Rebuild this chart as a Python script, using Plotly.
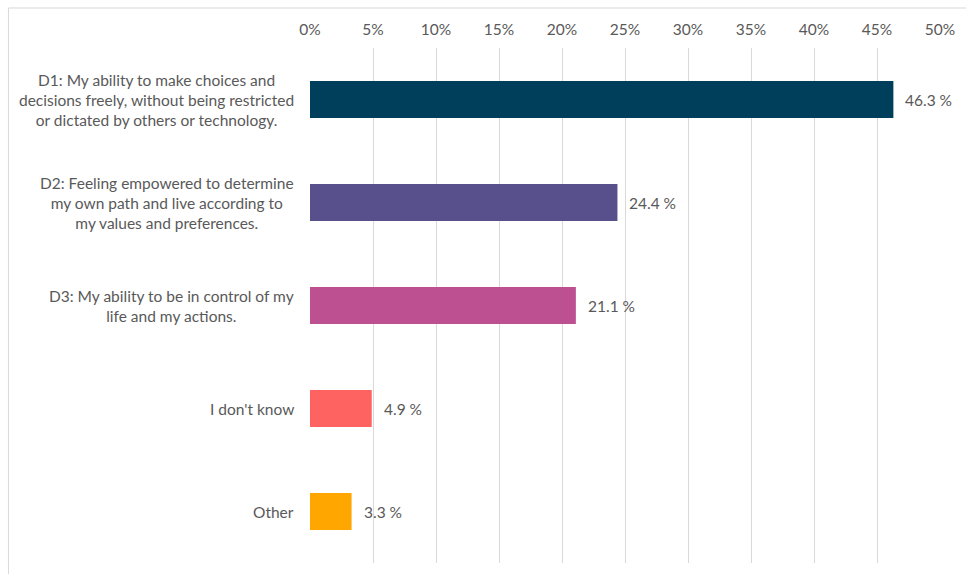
import plotly.graph_objects as go

# Survey responses: share of respondents choosing each definition
categories = ["D1", "D2", "D3", "IDK", "Other"]
labels = [
    "D1: My ability to make choices and<br>decisions freely, without being restricted<br>or dictated by others or technology.",
    "D2: Feeling empowered to determine<br>my own path and live according to<br>my values and preferences.",
    "D3: My ability to be in control of my<br>life and my actions.",
    "I don't know",
    "Other",
]
values = [46.3, 24.4, 21.1, 4.9, 3.3]
colors = ["#003f5c", "#58508d", "#bc5090", "#ff6361", "#ffa600"]
tick_vals = [0, 5, 10, 15, 20, 25, 30, 35, 40, 45, 50]
tick_text = [f"{v}%" for v in tick_vals]

FONT = "Lato"
GREY = "#595959"
SIZE = 15.5

fig = go.Figure(
    go.Bar(
        x=values,
        y=categories,
        orientation="h",
        marker=dict(color=colors, line=dict(width=0)),
        width=0.36,
        hovertemplate="%{x:.1f} %<extra></extra>",
    )
)

# Value labels just past the end of each bar
for cat, v in zip(categories, values):
    fig.add_annotation(
        x=v, xref="x", y=cat, yref="y", xshift=10,
        text=f"{v:.1f} %", showarrow=False,
        xanchor="left", yanchor="middle",
        font=dict(family=FONT, size=SIZE, color=GREY),
    )

# Category labels, centred line by line to the left of the axis
for cat, lab in zip(categories, labels):
    fig.add_annotation(
        x=0, xref="paper", xshift=-14,
        y=cat, yref="y",
        text=lab, showarrow=False,
        xanchor="right", yanchor="middle", align="center",
        font=dict(family=FONT, size=SIZE, color=GREY),
    )

# Light frame around the chart area
fig.add_shape(
    type="rect", xref="paper", yref="paper",
    x0=-0.4786, x1=1.2, y0=-0.2, y1=1.0777,
    line=dict(color="#d9d9d9", width=1), fillcolor="rgba(0,0,0,0)",
    layer="below",
)

fig.update_layout(
    width=966, height=574,
    margin=dict(l=310, r=24, t=48, b=11),
    paper_bgcolor="white", plot_bgcolor="white",
    showlegend=False,
    bargap=0.64,
    xaxis=dict(
        side="top", range=[0, 50],
        tickvals=tick_vals, ticktext=tick_text,
        showgrid=True, gridcolor="#d9d9d9", gridwidth=1,
        zeroline=False, showline=False, ticks="",
        ticklabelstandoff=9,
        tickfont=dict(family=FONT, size=SIZE, color=GREY),
    ),
    yaxis=dict(
        categoryorder="array", categoryarray=categories,
        autorange="reversed", showticklabels=False,
        showgrid=False, zeroline=False, showline=False, ticks="",
    ),
)

fig.write_html("out.html")
